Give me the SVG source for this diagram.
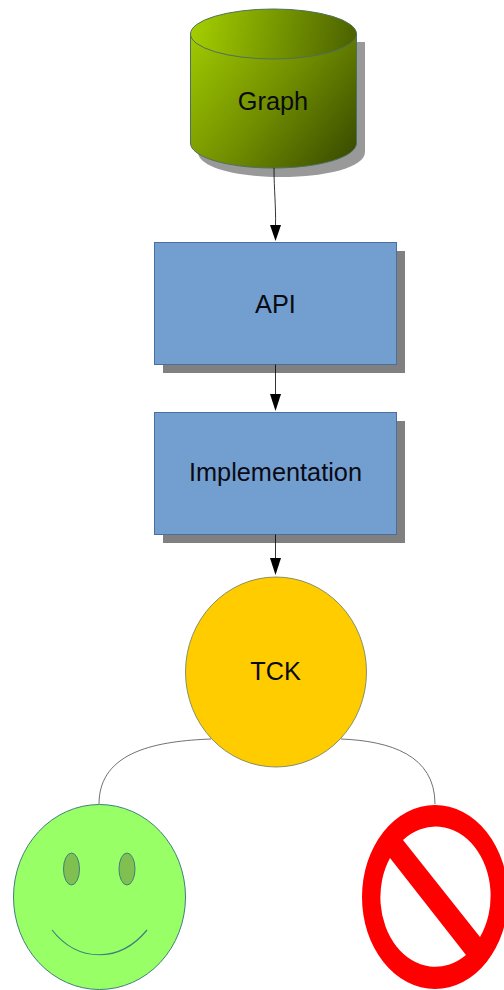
<svg xmlns="http://www.w3.org/2000/svg" width="504" height="990" viewBox="0 0 504 990">
<style>
text{font-family:"Liberation Sans",Arial,sans-serif;font-size:25.300px;fill:#0a0a14;text-anchor:middle}
.box{fill:#729fcf;stroke:#4a6f9f;stroke-width:1}
.shadow{fill:#808080}
.conn{fill:none;stroke:#000;stroke-width:.8}
.link{fill:none;stroke:#333;stroke-width:.7}
.ah{fill:#000}
.line{stroke:#3f7f7f}
</style>
<defs>
<linearGradient id="g" gradientUnits="userSpaceOnUse" x1="190" y1="40" x2="357" y2="168"><stop offset="0" stop-color="#a0c800"/><stop offset="0.5" stop-color="#6f8c00"/><stop offset="1" stop-color="#344600"/></linearGradient>
<linearGradient id="gt" gradientUnits="userSpaceOnUse" x1="190" y1="20" x2="357" y2="50"><stop offset="0" stop-color="#a6d000"/><stop offset="1" stop-color="#4a6000"/></linearGradient>
</defs>
<g id="graph">
<path class="shadow" fill-opacity=".8" d="M198 42V152C198 167 235 177 281 177S365 167 365 152V42Z"/>
<path d="M190.500 34V143C190.500 157 227 168 273.500 168S356.500 157 356.500 143V34Z" fill="url(#g)" stroke="#4f6f5f"/>
<path d="M190.500 34A83 25 0 0 1 356.500 34A83 25 0 0 1 190.500 34Z" fill="url(#gt)" stroke="#4f6f5f"/>
<text x="273" y="110">Graph</text>
</g>
<g id="api">
<rect class="shadow" x="163" y="251" width="242" height="122"/>
<rect class="box" x="154.500" y="242.500" width="242" height="122"/>
<text x="275.500" y="313">API</text>
</g>
<g id="implementation">
<rect class="shadow" x="163" y="421" width="242" height="122"/>
<rect class="box" x="154.500" y="412.500" width="242" height="122"/>
<text x="275.500" y="481">Implementation</text>
</g>
<g id="tck">
<ellipse cx="276" cy="672" rx="90.500" ry="95" fill="#fc0" stroke="#6a7a60" stroke-width=".8"/>
<text x="275.500" y="680">TCK</text>
</g>
<g id="smiley">
<ellipse cx="99.500" cy="897" rx="86" ry="92.500" fill="#9f6" class="line"/>
<ellipse cx="71.500" cy="869" rx="8" ry="16" fill="#7fc050" class="line"/>
<ellipse cx="127" cy="869" rx="8" ry="16" fill="#7fc050" class="line"/>
<path d="M52 930C78 963 120 963 147 930" fill="none" class="line" stroke-width="1.200"/>
</g>
<g id="forbidden">
<path fill-rule="evenodd" fill="#f00" d="M362 897A73 92 0 1 1 508 897A73 92 0 1 1 362 897ZM403 840L480 937A55 69.500 0 0 0 403 840ZM390 858A55 69.500 0 0 0 466 955Z"/>
</g>
<g id="connectors">
<path class="conn" d="M274 168C274 190 276 205 275.500 226"/>
<path class="ah" d="M270 225H281L275.500 241Z"/>
<path class="conn" d="M275.500 364.500V395"/>
<path class="ah" d="M270 394H281L275.500 411Z"/>
<path class="conn" d="M275.500 534.500V560"/>
<path class="ah" d="M270 558H281L275.500 575Z"/>
<path class="link" d="M211 739C160 741 99 750 99 804"/>
<path class="link" d="M341 739C390 741 435 755 435 804"/>
</g>
</svg>
